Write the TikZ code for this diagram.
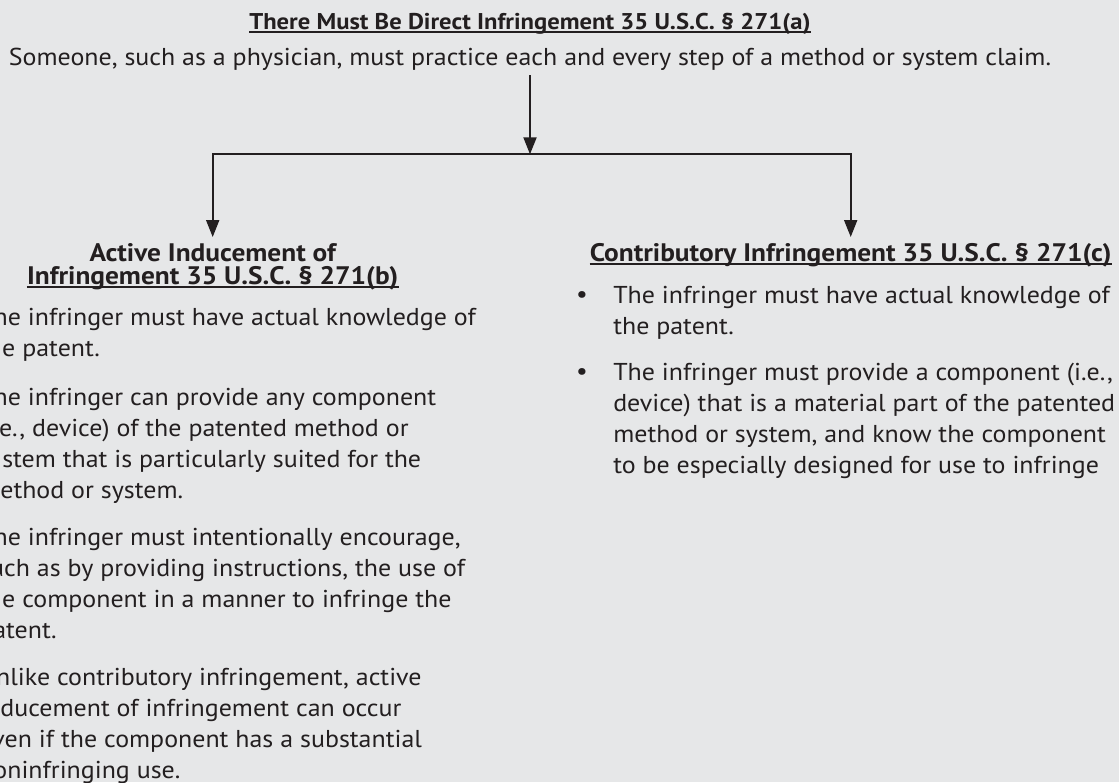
\documentclass[tikz,border=0pt]{standalone}
\usepackage{fontspec}
\setmainfont{PT Sans}
\newfontfamily\bodyfont{PT Sans}[FakeStretch=1.063]
\newfontfamily\headfont{PT Sans}[FakeStretch=1.08]
\usetikzlibrary{arrows.meta}
\definecolor{bg}{HTML}{E6E7E8}
\definecolor{ink}{HTML}{231F20}
\tikzset{
  body/.style={anchor=base west, inner sep=0pt, font=\bodyfont\fontsize{18.3}{22}\selectfont, text=ink},
  head/.style={anchor=base, inner sep=0pt, font=\headfont\bfseries\fontsize{19}{22}\selectfont, text=ink},
  tophead/.style={head, font=\headfont\bfseries\fontsize{17.1}{20}\selectfont},
  arr/.style={draw=ink, line width=1.5pt, line join=miter, -{Triangle[length=12.75pt,width=9.75pt]}},
  uline/.style={draw=ink, line width=1.1pt}
}
\begin{document}
\begin{tikzpicture}[x=0.75pt,y=-0.75pt]
\useasboundingbox (0,0) rectangle (1119,782);
\fill[bg] (0,0) rectangle (1119,782);
\clip (0,0) rectangle (1119,782);

% top
\node[tophead] (top) at (530,29) {There Must Be Direct Infringement 35 U.S.C. § 271(a)};
\draw[uline] ([yshift=-2.3pt]top.base west) -- ([yshift=-2.3pt]top.base east);
\node[body, anchor=base] (sub) at (530,65) {Someone, such as a physician, must practice each and every step of a method or system claim.};

% titles
\node[head] (lt) at (212.7,261) {Active Inducement of};
\node[head] (lt2) at (212.7,284) {Infringement 35 U.S.C. § 271(b)};
\draw[uline] ([yshift=-2.3pt]lt2.base west) -- ([yshift=-2.3pt]lt2.base east);
\node[head] (rt) at (850.7,261) {Contributory Infringement 35 U.S.C. § 271(c)};
\draw[uline] ([yshift=-2.3pt]rt.base west) -- ([yshift=-2.3pt]rt.base east);

% connectors
\coordinate (j) at (530,154.3);
\draw[arr] ([yshift=-7.5pt]sub.base) -- (j);
\draw[arr] (j) -| ([yshift=18pt]lt.base);
\draw[arr] (j) -| ([yshift=18pt]rt.base);

% left column (cropped at the picture's left edge, as in the reference)
\foreach \y/\p/\t [count=\i] in {
  325/T/{he infringer must have actual knowledge of},
  356/th/{e patent.},
  405/T/{he infringer can provide any component},
  436/{(i.}/{e., device) of the patented method or},
  467/sy/{stem that is particularly suited for the},
  498/m/{ethod or system.},
  545/T/{he infringer must intentionally encourage,},
  576/s/{uch as by providing instructions, the use of},
  607/th/{e component in a manner to infringe the},
  638/p/{atent.},
  685/U/{nlike contributory infringement, active},
  716/in/{ducement of infringement can occur},
  747/e/{ven if the component has a substantial},
  778/n/{oninfringing use.}}
  \node[body] (L\i) at (-21,\y) {\phantom{\p}\t};

% right column
\node[body, anchor=center] (b1) at (582,297) {•};
\node[body, anchor=center] (b2) at (582,374) {•};
\foreach \y/\t [count=\i] in {
  303/{The infringer must have actual knowledge of},
  334/{the patent.},
  380/{The infringer must provide a component (i.e.,},
  411/{device) that is a material part of the patented},
  442/{method or system, and know the component},
  473/{to be especially designed for use to infringe}}
  \node[body] (R\i) at (613,\y) {\t};
\end{tikzpicture}
\end{document}
